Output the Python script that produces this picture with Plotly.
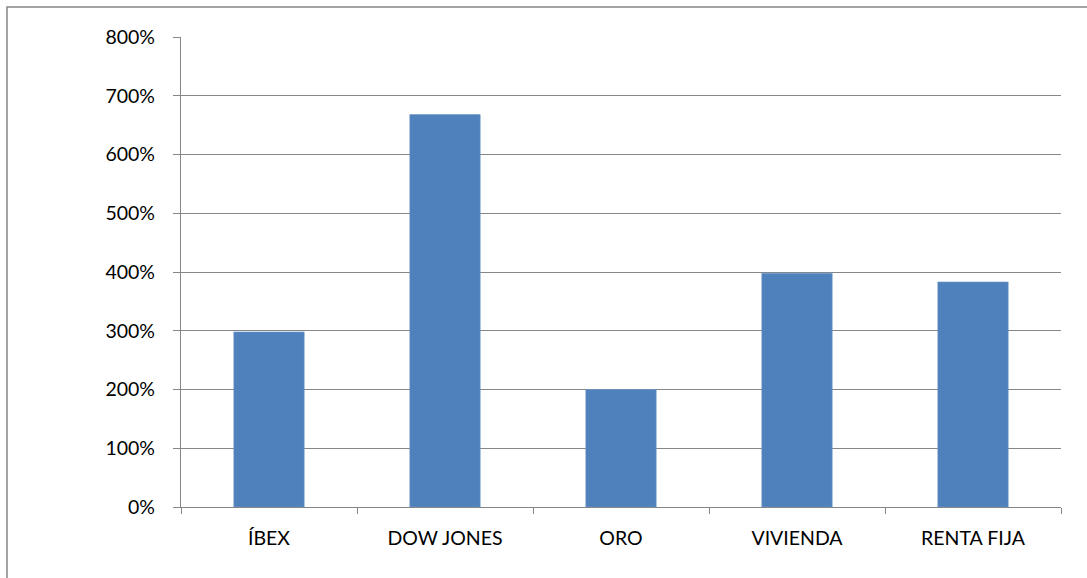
import plotly.graph_objects as go

categories = ["ÍBEX", "DOW JONES", "ORO", "VIVIENDA", "RENTA FIJA"]
values = [2.98, 6.68, 2.00, 3.98, 3.83]
y_ticks = [0, 1, 2, 3, 4, 5, 6, 7, 8]

W, H = 1087, 578
L, R, T, B = 181, 26, 37, 71
pw = W - L - R
ph = H - T - B

fig = go.Figure()
fig.add_trace(go.Bar(
    x=categories, y=values,
    marker=dict(color="#4F81BD", line=dict(color="#6f97c9", width=0.6)),
    width=0.4,
))

fig.update_layout(
    width=W, height=H,
    margin=dict(l=L, r=R, t=T, b=B, pad=0),
    paper_bgcolor="white", plot_bgcolor="white",
    font=dict(family="Lato, Carlito, 'Liberation Sans', sans-serif", size=19.5, color="#000000"),
    showlegend=False,
    xaxis=dict(
        type="category",
        showline=True, linecolor="#868686", linewidth=1.3,
        ticks="outside", tickson="boundaries", ticklen=6, tickcolor="#868686", tickwidth=1.3,
        showgrid=False, ticklabelstandoff=13,
        range=[-0.5, 4.5],
    ),
    yaxis=dict(
        range=[0, 8], tickvals=y_ticks, tickformat=".0%",
        showline=True, linecolor="#868686", linewidth=1.3,
        ticks="outside", ticklen=7, tickcolor="#868686", tickwidth=1.3,
        showgrid=True, gridcolor="#868686", gridwidth=1.3,
        zeroline=False, ticklabelstandoff=14,
    ),
)

# outer chart frame
fig.add_shape(
    type="rect", xref="paper", yref="paper",
    x0=(7 - L) / pw, x1=(W + 20 - L) / pw,
    y0=-(H + 20 - T - ph) / ph, y1=(ph + T - 7) / ph,
    line=dict(color="#868686", width=1.5), fillcolor="rgba(0,0,0,0)",
    layer="below",
)

fig.write_html("out.html")
